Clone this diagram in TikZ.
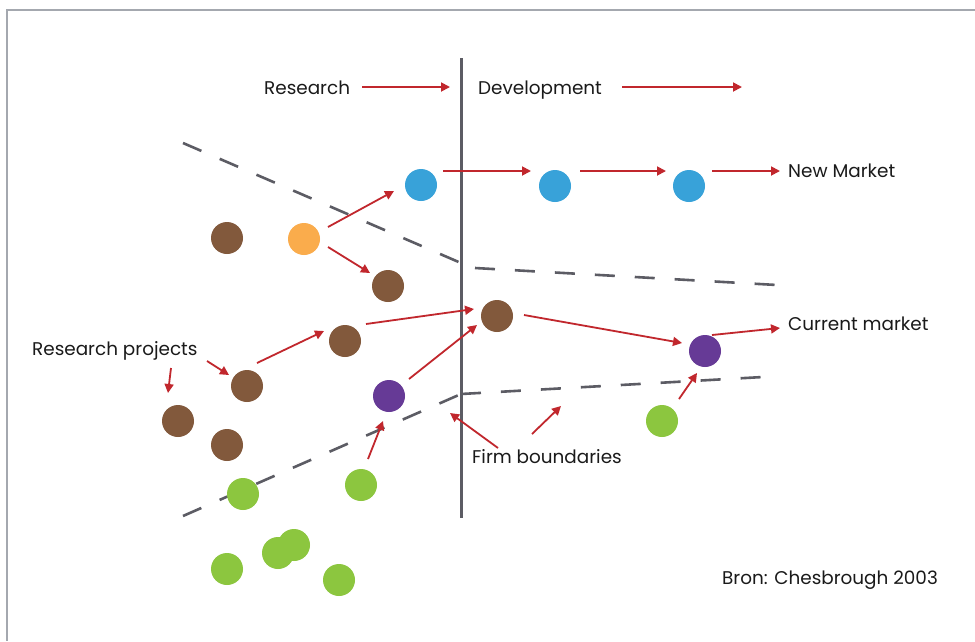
\documentclass[tikz,border=0pt]{standalone}
\usepackage{fontspec}
\setmainfont{Poppins}
\usetikzlibrary{arrows.meta}
\definecolor{arrowred}{RGB}{193,39,45}
\definecolor{linegray}{RGB}{92,92,100}
\definecolor{framegray}{RGB}{164,168,175}
\definecolor{dotbrown}{RGB}{130,89,60}
\definecolor{dotorange}{RGB}{250,172,76}
\definecolor{dotblue}{RGB}{56,162,217}
\definecolor{dotpurple}{RGB}{102,58,150}
\definecolor{dotgreen}{RGB}{140,198,63}
\definecolor{txt}{RGB}{26,26,26}
\begin{document}
\begin{tikzpicture}[x=1pt,y=-1pt,
  dot/.style={circle,minimum size=32pt,inner sep=0pt,draw=none,fill=#1},
  lbl/.style={anchor=base west,inner sep=0pt,text=txt,font=\fontsize{18.4}{22}\selectfont},
  arr/.style={draw=arrowred,line width=1.8pt,-{Triangle[length=9pt,width=9pt]}},
  boundary/.style={draw=linegray,line width=2.6pt,dash pattern=on 20pt off 20pt},
  frameline/.style={draw=framegray,line width=2pt}]
\useasboundingbox (0,0) rectangle (975,641);
\fill[white] (0,0) rectangle (975,641);
\draw[frameline] (975,10) -- (7,10) -- (7,641);

% firm boundaries and the research/development divide
\draw[boundary] (183,143) -- (461,263);
\draw[boundary] (475,268) -- (777,285);
\draw[boundary] (183,516) -- (461,394);
\draw[boundary] (461,394) -- (763,377);
\draw[draw=linegray,line width=3pt] (461,58) -- (461,518);

% labels
\node[lbl] (res) at (264,94) {Research};
\node[lbl] (dev) at (478,94) {Development};
\node[lbl] (newm) at (788,177) {New Market};
\node[lbl] (curm) at (788,330) {Current market};
\node[lbl] (rp) at (32,355) {Research projects};
\node[lbl] (fb) at (472,463) {Firm boundaries};
\node[lbl] (src) at (722,584) {Bron: Chesbrough 2003};

\coordinate (resEnd) at (450,87);
\coordinate (devEnd) at (742,87);
\coordinate (fbL) at (450,413);
\coordinate (fbR) at (561,406);

% projects
\node[dot=dotblue] (b1) at (421,185) {};
\node[dot=dotblue] (b2) at (555,186) {};
\node[dot=dotblue] (b3) at (689,186) {};
\node[dot=dotbrown] (p1) at (227,238) {};
\node[dot=dotorange] (o1) at (304,239) {};
\node[dot=dotbrown] (p2) at (388,286) {};
\node[dot=dotbrown] (p3) at (497,316) {};
\node[dot=dotbrown] (p4) at (345,341) {};
\node[dot=dotpurple] (u1) at (705,351) {};
\node[dot=dotbrown] (p5) at (247,386) {};
\node[dot=dotpurple] (u2) at (389,396) {};
\node[dot=dotbrown] (p6) at (178,421) {};
\node[dot=dotbrown] (p7) at (227,445) {};
\node[dot=dotgreen] (g1) at (662,421) {};
\node[dot=dotgreen] (g2) at (243,494) {};
\node[dot=dotgreen] (g3) at (361,485) {};
\node[dot=dotgreen] (g4) at (294,545) {};
\node[dot=dotgreen] (g5) at (278,553) {};
\node[dot=dotgreen] (g6) at (227,569) {};
\node[dot=dotgreen] (g7) at (339,580) {};

% flows
\draw[arr] ([shift={(98,-7)}]res.base west) -- (resEnd);
\draw[arr] ([shift={(144,-7)}]dev.base west) -- (devEnd);
\draw[arr] ([shift={(24,-12)}]o1.center) -- ([shift={(-27,6)}]b1.center);
\draw[arr] ([shift={(24,8)}]o1.center) -- ([shift={(-18,-13)}]p2.center);
\draw[arr] ([shift={(22,-14)}]b1.center) -- ([shift={(-24,-15)}]b2.center);
\draw[arr] ([shift={(25,-15)}]b2.center) -- ([shift={(-23,-15)}]b3.center);
\draw[arr] ([shift={(23,-15)}]b3.center) -- ([shift={(-8,-6)}]newm.base west);
\draw[arr] ([shift={(139,13)}]rp.base west) -- ([shift={(-10,-28)}]p6.center);
\draw[arr] ([shift={(175,6)}]rp.base west) -- ([shift={(-18,-11)}]p5.center);
\draw[arr] ([shift={(10,-23)}]p5.center) -- ([shift={(-21,-10)}]p4.center);
\draw[arr] ([shift={(21,-17)}]p4.center) -- ([shift={(-23,-7)}]p3.center);
\draw[arr] ([shift={(20,-17)}]u2.center) -- ([shift={(-20,9)}]p3.center);
\draw[arr] ([shift={(27,-1)}]p3.center) -- ([shift={(-23,-8)}]u1.center);
\draw[arr] ([shift={(7,-16)}]u1.center) -- ([shift={(-8,-2)}]curm.base west);
\draw[arr] ([shift={(7,-26)}]g3.center) -- ([shift={(-6,25)}]u2.center);
\draw[arr] ([shift={(17,-22)}]g1.center) -- ([shift={(-8,22)}]u1.center);
\draw[arr] ([shift={(26,-15)}]fb.base west) -- (fbL);
\draw[arr] ([shift={(60,-29)}]fb.base west) -- (fbR);
\end{tikzpicture}
\end{document}
